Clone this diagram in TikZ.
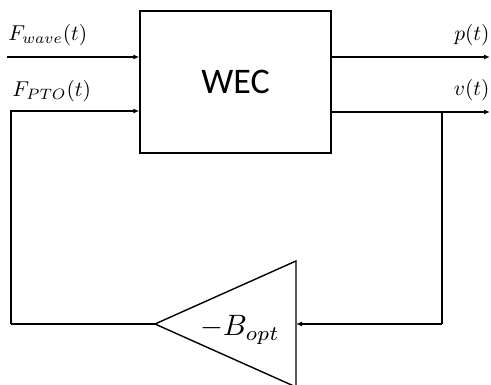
\documentclass[tikz,border=0pt]{standalone}
\usepackage{fontspec}
\newfontfamily\calfont{Carlito}
\usetikzlibrary{arrows.meta}
\begin{document}
\begin{tikzpicture}[x=1pt,y=1pt,
  wire/.style={line width=1.4pt},
  sig/.style={wire,-{Latex[length=6pt,width=5pt]}},
  lbl/.style={inner sep=0pt,scale=2.15}]
\useasboundingbox (0,0) rectangle (491,385);
% plant block
\node[draw,line width=1.4pt,minimum width=191pt,minimum height=142pt,inner sep=0pt,
      font=\calfont\fontsize{36}{40}\selectfont] (wec) at (235.5,303) {WEC};
% gain block
\coordinate (tip) at (155,61);
\coordinate (gtop) at (296,124);
\coordinate (gbot) at (296,-2);
\draw[wire,line join=miter] (gtop) -- (tip) -- (gbot) -- cycle;
\node[inner sep=0pt,scale=2.95] (gain) at (240,55) {$-B_{opt}$};
\coordinate (gin) at (296,61);
% inputs
\coordinate (fw) at (7,328);
\coordinate (fp) at (11,274);
\coordinate (fpb) at (11,61);
\draw[sig] (fw) -- (fw -| wec.west);
\draw[sig] (fpb) -- (fp) -- (fp -| wec.west);
\draw[wire] (tip) -- (fpb);
% outputs
\coordinate (po) at (490,328);
\coordinate (vo) at (490,273);
\coordinate (br) at (442,273);
\coordinate (brb) at (442,61);
\draw[sig] (po -| wec.east) -- (po);
\draw[sig] (vo -| wec.east) -- (vo);
\draw[wire] (br) -- (brb);
\draw[sig] (brb) -- (gin);
% signal labels
\node[lbl,anchor=west] (lfw) at (8,350) {$F_{wave}(t)$};
\node[lbl,anchor=west] (lfp) at (12,294) {$F_{PTO}(t)$};
\node[lbl,anchor=east] (lp) at (490,350) {$p(t)$};
\node[lbl,anchor=east] (lv) at (490,295) {$v(t)$};
\end{tikzpicture}
\end{document}
